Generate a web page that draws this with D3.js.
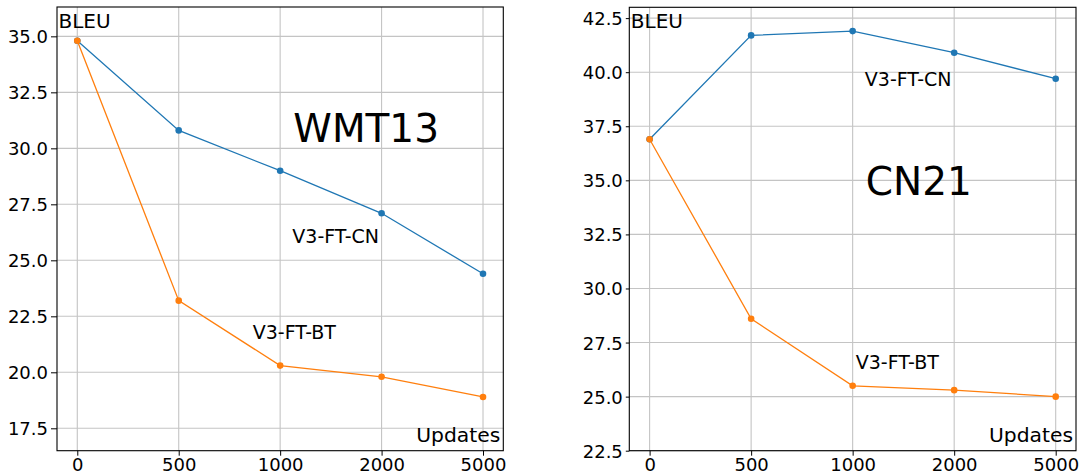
<!DOCTYPE html>
<html>
<head>
<meta charset="utf-8">
<script src="https://cdn.jsdelivr.net/npm/d3@7"></script>
<style>
  body { margin: 0; background: #fff; }
  svg { display: block; font-family: "DejaVu Sans", sans-serif; }
</style>
</head>
<body>
<div id="chart"></div>
<script>
// data
const updates = ["0", "500", "1000", "2000", "5000"];
const wmt13CN = [34.8, 30.8, 29.0, 27.1, 24.4];
const wmt13BT = [34.8, 23.2, 20.3, 19.8, 18.9];
const cn21CN = [36.9, 41.7, 41.9, 40.9, 39.7];
const cn21BT = [36.9, 28.6, 25.5, 25.3, 25.0];
const wmt13Ticks = [17.5, 20.0, 22.5, 25.0, 27.5, 30.0, 32.5, 35.0];
const cn21Ticks = [22.5, 25.0, 27.5, 30.0, 32.5, 35.0, 37.5, 40.0, 42.5];

const W = 1081, H = 475;
const blue = "#1f77b4", orange = "#ff7f0e";

const svg = d3.select("#chart").append("svg")
  .attr("width", W)
  .attr("height", H);

// one panel per corpus
const panels = [
  {
    title: "WMT13", cn: wmt13CN, bt: wmt13BT, ticks: wmt13Ticks,
    left: 57, right: 503.3, top: 7, bottom: 450.7, ylim: [16.5, 36.31],
    labelGap: 9,
    titleAt: [2.13, 30.3], cnAt: [2.12, 25.76], btAt: [1.73, 21.47]
  },
  {
    title: "CN21", cn: cn21CN, bt: cn21BT, ticks: cn21Ticks,
    left: 629.3, right: 1076, top: 7.3, bottom: 450.7, ylim: [22.5, 43.0],
    labelGap: 6.5,
    titleAt: [2.13, 34.32], cnAt: [2.12, 39.37], btAt: [2.03, 26.3]
  }
];

panels.forEach(p => {
  const x = d3.scaleLinear().domain([-0.2, 4.2]).range([p.left, p.right]);
  const y = d3.scaleLinear().domain(p.ylim).range([p.bottom, p.top]);
  const g = svg.append("g");

  // grid
  g.append("g")
    .selectAll("line.vx")
    .data(d3.range(updates.length))
    .join("line")
    .attr("x1", d => x(d)).attr("x2", d => x(d))
    .attr("y1", p.top).attr("y2", p.bottom)
    .attr("stroke", "#c4c4c4").attr("stroke-width", 1.1);
  g.append("g")
    .selectAll("line.hy")
    .data(p.ticks)
    .join("line")
    .attr("x1", p.left).attr("x2", p.right)
    .attr("y1", d => y(d)).attr("y2", d => y(d))
    .attr("stroke", "#c4c4c4").attr("stroke-width", 1.1);

  // axes
  const xAxis = d3.axisBottom(x)
    .tickValues(d3.range(updates.length))
    .tickFormat(i => updates[i])
    .tickSize(5).tickPadding(3);
  g.append("g")
    .attr("transform", `translate(0,${p.bottom})`)
    .call(xAxis)
    .call(a => a.select(".domain").remove())
    .call(a => a.selectAll("text").attr("font-size", 18).attr("fill", "#000")
      .attr("font-family", "DejaVu Sans").attr("dy", "0.7em"));

  const yAxis = d3.axisLeft(y)
    .tickValues(p.ticks)
    .tickFormat(d3.format(".1f"))
    .tickSize(p.labelGap - 3).tickPadding(3);
  g.append("g")
    .attr("transform", `translate(${p.left},0)`)
    .call(yAxis)
    .call(a => a.select(".domain").remove())
    .call(a => a.selectAll("text").attr("font-size", 18).attr("fill", "#000")
      .attr("font-family", "DejaVu Sans").attr("dy", "0.36em"));

  // frame
  g.append("rect")
    .attr("x", p.left).attr("y", p.top)
    .attr("width", p.right - p.left).attr("height", p.bottom - p.top)
    .attr("fill", "none").attr("stroke", "#000").attr("stroke-width", 1.1);

  // series
  const line = d3.line().x((d, i) => x(i)).y(d => y(d));
  [[p.cn, blue], [p.bt, orange]].forEach(([vals, col]) => {
    g.append("path")
      .datum(vals)
      .attr("d", line)
      .attr("fill", "none")
      .attr("stroke", col)
      .attr("stroke-width", 1.3);
    g.append("g")
      .selectAll("circle")
      .data(vals)
      .join("circle")
      .attr("cx", (d, i) => x(i))
      .attr("cy", d => y(d))
      .attr("r", 3.3)
      .attr("fill", col);
  });

  // text
  g.append("text")
    .attr("x", p.left + 1.5).attr("y", p.top + 20.5)
    .attr("font-size", 20).text("BLEU");
  g.append("text")
    .attr("x", p.right - 3).attr("y", p.bottom - 8.7)
    .attr("text-anchor", "end")
    .attr("font-size", 20.3).text("Updates");
  g.append("text")
    .attr("x", x(p.titleAt[0])).attr("y", y(p.titleAt[1]))
    .attr("font-size", 39).text(p.title);
  g.append("text")
    .attr("x", x(p.cnAt[0])).attr("y", y(p.cnAt[1]))
    .attr("font-size", 19).text("V3-FT-CN");
  g.append("text")
    .attr("x", x(p.btAt[0])).attr("y", y(p.btAt[1]))
    .attr("font-size", 19).text("V3-FT-BT");
});
</script>
</body>
</html>
